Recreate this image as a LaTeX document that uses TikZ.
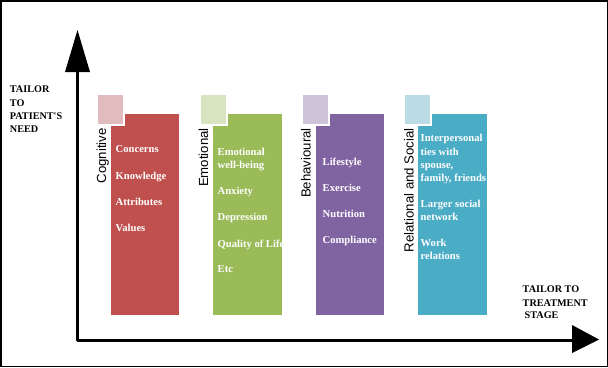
\documentclass[tikz,border=0pt]{standalone}
\usepackage{fontspec}
\setmainfont{Liberation Serif}
\setsansfont{Liberation Sans}
\definecolor{cred}{HTML}{C0504D}
\definecolor{cgreen}{HTML}{9BBB59}
\definecolor{cpurple}{HTML}{8064A2}
\definecolor{cblue}{HTML}{4BACC6}
\definecolor{lred}{HTML}{E2BBBE}
\definecolor{lgreen}{HTML}{D8E4C0}
\definecolor{lpurple}{HTML}{CDC4DA}
\definecolor{lblue}{HTML}{BBDCE5}
\tikzset{
  mainbox/.style={draw=none, inner sep=0pt, minimum width=68.5pt, minimum height=201pt, anchor=north west},
  tabbox/.style={draw=white, line width=2pt, inner sep=0pt, minimum width=27pt, minimum height=31pt, anchor=north west},
  catlabel/.style={font=\sffamily\fontsize{13.2}{15}\selectfont, rotate=90, anchor=base east, inner sep=0pt},
  itemtext/.style={font=\bfseries\fontsize{10.6}{12}\selectfont, text=white, anchor=base west, inner sep=0pt},
  axislabel/.style={font=\bfseries\fontsize{10.2}{12}\selectfont, anchor=base west, inner sep=0pt},
  axisline/.style={line width=3pt, line join=round, line cap=butt},
}
\begin{document}
\begin{tikzpicture}[x=1pt,y=-1pt]
\useasboundingbox (0,0) rectangle (608,367);
\fill[white] (0,0) rectangle (608,367);
\draw[line width=1.5pt] (0.75,0.75) rectangle (607.25,366.25);

% axes
\coordinate (O) at (77.5,340);
\coordinate (Ybase) at (77.5,70);
\coordinate (Ytip) at (77.5,30);
\coordinate (Xbase) at (573,340);
\coordinate (Xtip) at (599,339.5);
\draw[axisline] (Ybase) -- (O) -- (Xbase);
\fill (Ytip) -- (65,72) -- (90,72) -- cycle;
\fill (Xtip) -- (572,325) -- (572,353) -- cycle;

% boxes
\node[mainbox, fill=cred] (b1) at (110.5,114) {};
\node[tabbox, fill=lred] (t1) at (96,93) {};
\node[mainbox, fill=cgreen] (b2) at (213,114) {};
\node[tabbox, fill=lgreen] (t2) at (198.5,93) {};
\node[mainbox, fill=cpurple] (b3) at (315.5,114) {};
\node[tabbox, fill=lpurple] (t3) at (301,93) {};
\node[mainbox, fill=cblue] (b4) at (418,114) {};
\node[tabbox, fill=lblue] (t4) at (403,93) {};

% category labels
\node[catlabel] (l1) at (106,128) {Cognitive};
\node[catlabel] (l2) at (208,128) {Emotional};
\node[catlabel] (l3) at (310.5,128) {Behavioural};
\node[catlabel] (l4) at (413.5,128) {Relational and Social};

% items
\foreach \t/\y [count=\i] in {Concerns/152.5, Knowledge/179.5, Attributes/205.5, Values/231.5}
  \node[itemtext] (c\i) at (115.5,\y) {\t};
\begin{scope}
\clip (b2.north west) rectangle (b2.south east);
\foreach \t/\y [count=\i] in {Emotional/155.5, well-being/168.5, Anxiety/194.5, Depression/220.5, Quality of Life/247, Etc/272.5}
  \node[itemtext] (e\i) at (217.5,\y) {\t};
\end{scope}
\foreach \t/\y [count=\i] in {Lifestyle/165.5, Exercise/191.5, Nutrition/217.5, Compliance/243.5}
  \node[itemtext] (h\i) at (322.5,\y) {\t};
\foreach \t/\y [count=\i] in {Interpersonal/141.5, ties with/155, {spouse,}/168.5, {family, friends}/181.5, Larger social/207.5, network/220.5, Work/246.5, relations/259.5}
  \node[itemtext] (r\i) at (420.5,\y) {\t};

% axis labels
\foreach \t/\y [count=\i] in {TAILOR/92.5, TO/106, PATIENT\textquotesingle S/119.5, NEED/132.5}
  \node[axislabel] (p\i) at (9.7,\y) {\t};
\node[axislabel] (s1) at (522.5,292.5) {TAILOR TO};
\node[axislabel] (s2) at (522.5,306.5) {TREATMENT};
\node[axislabel] (s3) at (524.5,318.5) {STAGE};
\end{tikzpicture}
\end{document}
